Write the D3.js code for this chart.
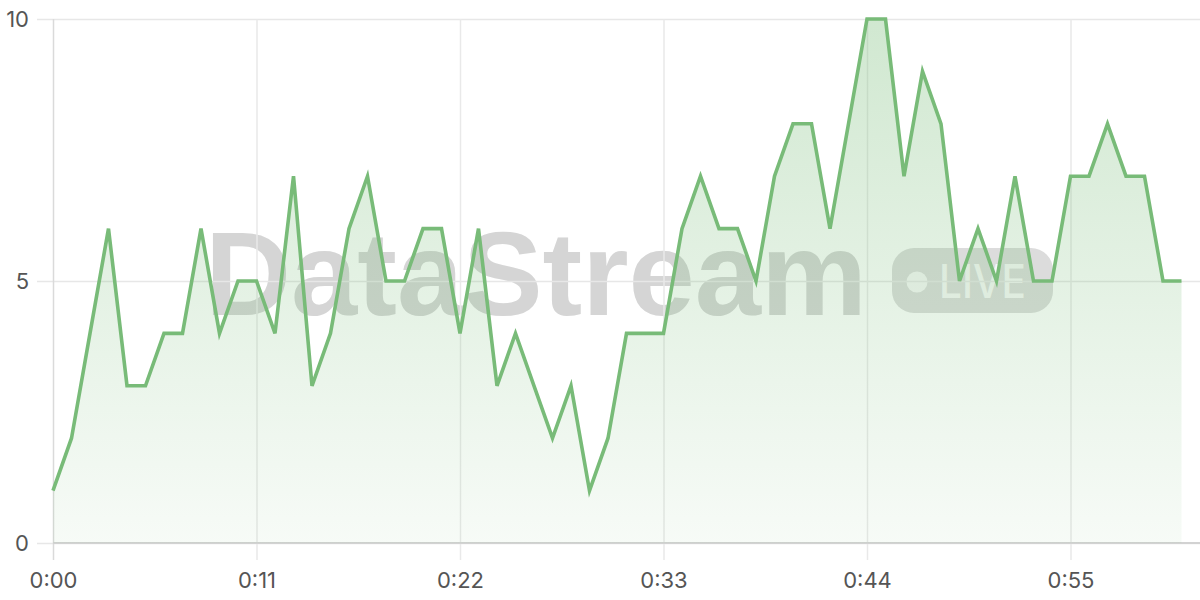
<!DOCTYPE html>
<html>
<head>
<meta charset="utf-8">
<script src="https://cdn.jsdelivr.net/npm/d3@7"></script>
<style>
  html, body { margin: 0; padding: 0; background: #ffffff; }
  svg { display: block; }
  .tick text { font-family: Inter, "Liberation Sans", sans-serif; font-size: 22px; fill: #555; }
</style>
</head>
<body>
<svg id="chart" width="1200" height="600"></svg>
<script>
// seconds elapsed (0..61)
const seconds = d3.range(0, 62);
// sampled values per second
const values = [1,2,4,6,3,3,4,4,6,4,5,5,4,7,3,4,6,7,5,5,
                6,6,4,6,3,4,3,2,3,1,2,4,4,4,6,7,6,6,5,7,
                8,8,6,8,10,10,7,9,8,5,6,5,7,5,5,7,7,8,7,7,
                5,5];
const xTickValues = [0, 11, 22, 33, 44, 55];
const yTickValues = [0, 5, 10];
const watermarkText = "DataStream";
const badgeText = "LIVE";

const data = seconds.map((s, i) => ({ t: s, v: values[i] }));

const svg = d3.select("#chart");
const x = d3.scaleLinear().domain([0, 61]).range([53, 1181.5]);
const y = d3.scaleLinear().domain([0, 10]).range([543, 19]);

const fmt = s => `${Math.floor(s / 60)}:${String(s % 60).padStart(2, "0")}`;

// gradient
const defs = svg.append("defs");
const grad = defs.append("linearGradient")
  .attr("id", "areaGrad").attr("gradientUnits", "userSpaceOnUse")
  .attr("x1", 0).attr("x2", 0).attr("y1", y(10)).attr("y2", y(0));
grad.append("stop").attr("offset", "0%").attr("stop-color", "#76bb76").attr("stop-opacity", 0.34);
grad.append("stop").attr("offset", "100%").attr("stop-color", "#76bb76").attr("stop-opacity", 0.06);

// watermark (behind everything)
const wm = svg.append("g").attr("class", "watermark");
wm.append("text")
  .attr("x", 205).attr("y", 315)
  .attr("textLength", 662).attr("lengthAdjust", "spacingAndGlyphs")
  .style("font-family", "'Liberation Sans', Arial, sans-serif")
  .style("font-weight", "bold").style("font-size", "119px")
  .attr("fill", "#d5d5d5")
  .text(watermarkText);
wm.append("rect")
  .attr("x", 892).attr("y", 248).attr("width", 161).attr("height", 65)
  .attr("rx", 22).attr("fill", "#dcdcdc");
wm.append("circle").attr("cx", 917).attr("cy", 282).attr("r", 10.5).attr("fill", "#f7f7f7");
wm.append("text")
  .attr("x", 939).attr("y", 298)
  .attr("textLength", 87).attr("lengthAdjust", "spacingAndGlyphs")
  .style("font-family", "Inter, 'Liberation Sans', Arial, sans-serif")
  .style("font-weight", "500").style("font-size", "47px")
  .attr("fill", "#f8f8f8")
  .text(badgeText);

// y grid + labels
const yAxis = svg.append("g")
  .attr("transform", "translate(1200,0)")
  .call(d3.axisLeft(y).tickValues(yTickValues).tickSize(1200 - 37).tickPadding(8).tickFormat(d3.format("d")));
yAxis.select(".domain").remove();
yAxis.selectAll(".tick line").attr("stroke", "#e7e7e7").attr("stroke-width", 1.5);

// x grid + labels
const xAxis = svg.append("g")
  .attr("transform", `translate(0,${y(10)})`)
  .call(d3.axisBottom(x).tickValues(xTickValues).tickSize(560 - y(10)).tickPadding(12).tickFormat(fmt));
xAxis.select(".domain").remove();
xAxis.selectAll(".tick line").attr("stroke", "#e9e9e9").attr("stroke-width", 1.5);
xAxis.selectAll(".tick").filter(d => d === 0).select("line").attr("stroke", "#dadada");

// baseline
svg.append("line")
  .attr("x1", x(0)).attr("x2", 1200).attr("y1", y(0)).attr("y2", y(0))
  .attr("stroke", "#d2d2d2").attr("stroke-width", 2);

// area
const area = d3.area().x(d => x(d.t)).y0(y(0)).y1(d => y(d.v));
svg.append("path").datum(data).attr("d", area).attr("fill", "url(#areaGrad)");

// line
const line = d3.line().x(d => x(d.t)).y(d => y(d.v));
svg.append("path").datum(data).attr("d", line)
  .attr("fill", "none").attr("stroke", "#78bb78").attr("stroke-width", 3.6)
  .attr("stroke-linejoin", "miter").attr("stroke-linecap", "butt");
</script>
</body>
</html>
